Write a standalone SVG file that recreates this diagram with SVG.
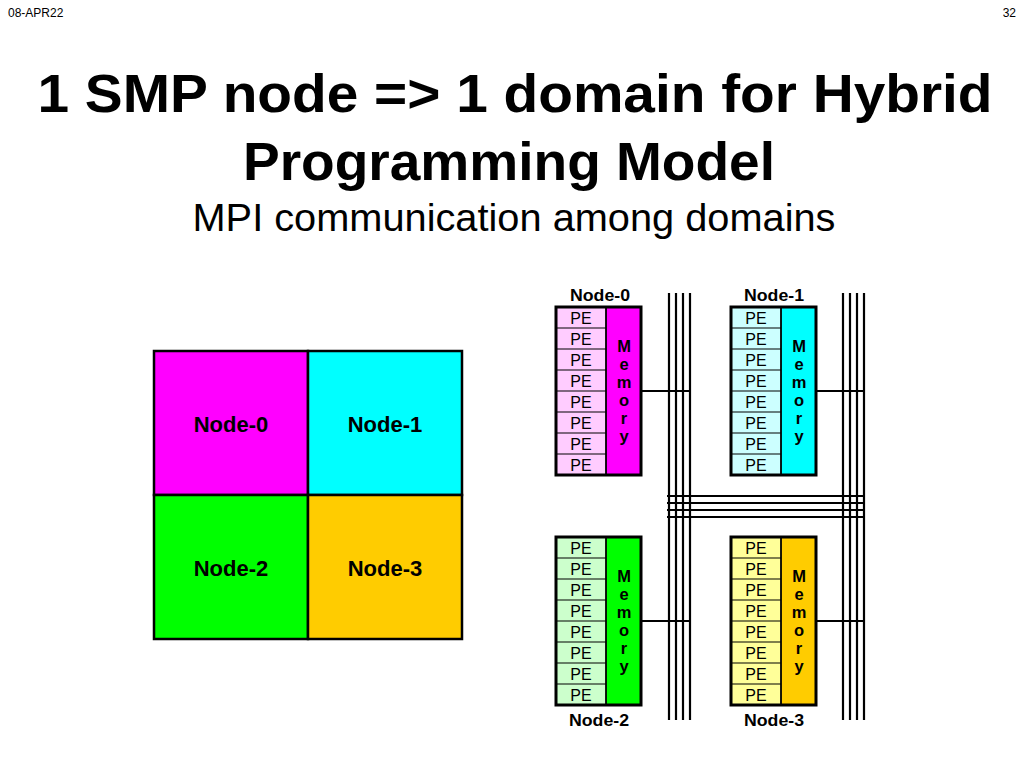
<svg xmlns="http://www.w3.org/2000/svg" width="1024" height="768" viewBox="0 0 1024 768">
<style>
.hdr{font-family:"Liberation Sans",Arial,sans-serif;font-size:12px;fill:#000}
.title{font-family:"Liberation Sans",Arial,sans-serif;font-weight:bold;font-size:54px;fill:#000;text-anchor:middle}
.sub{font-family:"Liberation Sans",Arial,sans-serif;font-size:38px;fill:#000;text-anchor:middle}
.big{font-family:"Liberation Sans",Arial,sans-serif;font-weight:bold;font-size:22px;fill:#000;text-anchor:middle}
.lbl{font-family:"Liberation Sans",Arial,sans-serif;font-weight:bold;font-size:16px;fill:#000;text-anchor:middle}
.pe{font-family:"Liberation Sans",Arial,sans-serif;font-size:16px;fill:#000;text-anchor:middle}
.mem{font-family:"Liberation Sans",Arial,sans-serif;font-weight:bold;font-size:16.5px;fill:#000;text-anchor:middle}
.cell{stroke:#000;stroke-width:2.5}
.row{stroke:#000;stroke-width:1.2;fill:none}
.box{fill:none;stroke:#000;stroke-width:3}
.wire{stroke:#000;stroke-width:2.2;fill:none}
</style>
<defs>
<g id="pes">
<rect x="0" y="0" width="50" height="168" class="row"/>
<line x1="0" y1="21" x2="50" y2="21" class="row"/>
<line x1="0" y1="42" x2="50" y2="42" class="row"/>
<line x1="0" y1="63" x2="50" y2="63" class="row"/>
<line x1="0" y1="84" x2="50" y2="84" class="row"/>
<line x1="0" y1="105" x2="50" y2="105" class="row"/>
<line x1="0" y1="126" x2="50" y2="126" class="row"/>
<line x1="0" y1="147" x2="50" y2="147" class="row"/>
<text x="25" y="17" class="pe">PE</text>
<text x="25" y="38" class="pe">PE</text>
<text x="25" y="59" class="pe">PE</text>
<text x="25" y="80" class="pe">PE</text>
<text x="25" y="101" class="pe">PE</text>
<text x="25" y="122" class="pe">PE</text>
<text x="25" y="143" class="pe">PE</text>
<text x="25" y="164" class="pe">PE</text>
<text x="68" y="45" class="mem">M</text>
<text x="68" y="63" class="mem">e</text>
<text x="68" y="81" class="mem">m</text>
<text x="68" y="99" class="mem">o</text>
<text x="68" y="117" class="mem">r</text>
<text x="68" y="135" class="mem">y</text>
<rect x="0" y="0" width="85" height="168" class="box"/>
</g>
</defs>
<rect width="1024" height="768" fill="#fff"/>
<text x="8" y="17" class="hdr">08-APR22</text>
<text x="1016" y="17" class="hdr" text-anchor="end">32</text>
<text x="515" y="112" class="title" textLength="955" lengthAdjust="spacingAndGlyphs">1 SMP node =&gt; 1 domain for Hybrid</text>
<text x="509" y="180" class="title" textLength="532" lengthAdjust="spacingAndGlyphs">Programming Model</text>
<text x="514" y="231" class="sub" textLength="643" lengthAdjust="spacingAndGlyphs">MPI communication among domains</text>

<g id="domains">
<rect x="154" y="351" width="154" height="144" fill="#FF00FF" class="cell"/>
<rect x="308" y="351" width="154" height="144" fill="#00FFFF" class="cell"/>
<rect x="154" y="495" width="154" height="144" fill="#00FF00" class="cell"/>
<rect x="308" y="495" width="154" height="144" fill="#FFCC00" class="cell"/>
<text x="231" y="432" class="big">Node-0</text>
<text x="385" y="432" class="big">Node-1</text>
<text x="231" y="576" class="big">Node-2</text>
<text x="385" y="576" class="big">Node-3</text>
</g>

<g id="connectors">
<line x1="669" y1="293" x2="669" y2="720" class="wire"/>
<line x1="676" y1="293" x2="676" y2="720" class="wire"/>
<line x1="683" y1="293" x2="683" y2="720" class="wire"/>
<line x1="690" y1="293" x2="690" y2="720" class="wire"/>
<line x1="843" y1="293" x2="843" y2="720" class="wire"/>
<line x1="850" y1="293" x2="850" y2="720" class="wire"/>
<line x1="857" y1="293" x2="857" y2="720" class="wire"/>
<line x1="864" y1="293" x2="864" y2="720" class="wire"/>
<line x1="667" y1="496" x2="865" y2="496" class="wire"/>
<line x1="667" y1="503" x2="865" y2="503" class="wire"/>
<line x1="667" y1="510" x2="865" y2="510" class="wire"/>
<line x1="667" y1="517" x2="865" y2="517" class="wire"/>
<line x1="641" y1="391" x2="690" y2="391" class="wire"/>
<line x1="816" y1="391" x2="864" y2="391" class="wire"/>
<line x1="641" y1="621" x2="690" y2="621" class="wire"/>
<line x1="816" y1="621" x2="864" y2="621" class="wire"/>
</g>

<g id="node0">
<rect x="556" y="307" width="50" height="168" fill="#FFCCFF"/>
<rect x="606" y="307" width="35" height="168" fill="#FF00FF" stroke="#000" stroke-width="1.5"/>
<use href="#pes" x="556" y="307"/>
<text x="600" y="301" class="lbl" textLength="60" lengthAdjust="spacingAndGlyphs">Node-0</text>
</g>
<g id="node1">
<rect x="731" y="307" width="50" height="168" fill="#CCFFFF"/>
<rect x="781" y="307" width="35" height="168" fill="#00FFFF" stroke="#000" stroke-width="1.5"/>
<use href="#pes" x="731" y="307"/>
<text x="774" y="301" class="lbl" textLength="60" lengthAdjust="spacingAndGlyphs">Node-1</text>
</g>
<g id="node2">
<rect x="556" y="537" width="50" height="168" fill="#CCFFCC"/>
<rect x="606" y="537" width="35" height="168" fill="#00FF00" stroke="#000" stroke-width="1.5"/>
<use href="#pes" x="556" y="537"/>
<text x="599" y="726" class="lbl" textLength="60" lengthAdjust="spacingAndGlyphs">Node-2</text>
</g>
<g id="node3">
<rect x="731" y="537" width="50" height="168" fill="#FFFF99"/>
<rect x="781" y="537" width="35" height="168" fill="#FFCC00" stroke="#000" stroke-width="1.5"/>
<use href="#pes" x="731" y="537"/>
<text x="774" y="726" class="lbl" textLength="60" lengthAdjust="spacingAndGlyphs">Node-3</text>
</g>
</svg>
